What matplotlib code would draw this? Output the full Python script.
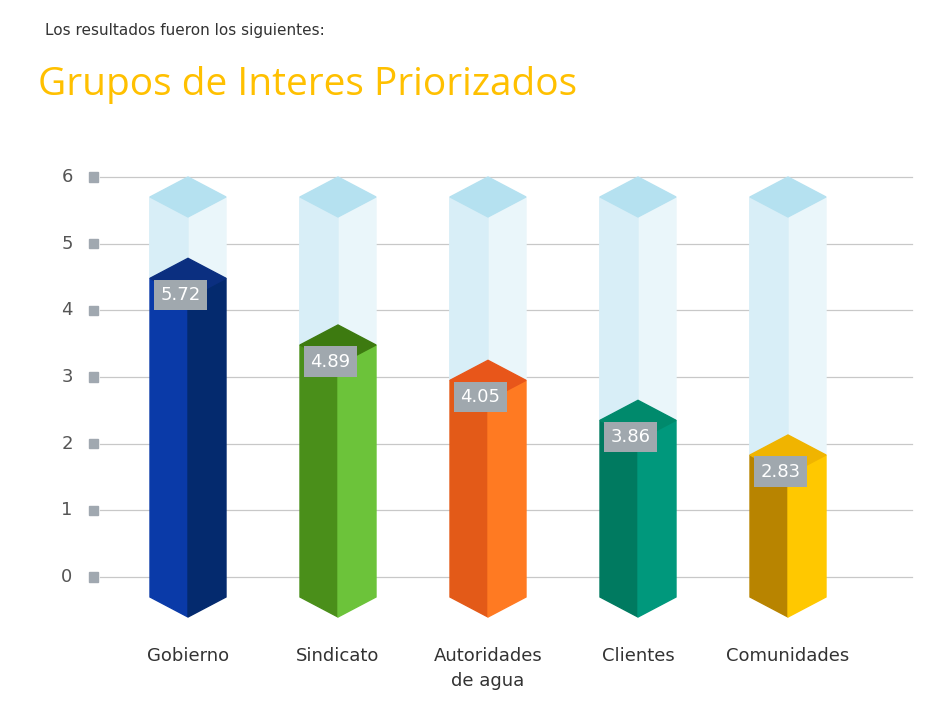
import matplotlib.pyplot as plt
from matplotlib.patches import Polygon, Rectangle

categories = ["Gobierno", "Sindicato", "Autoridades\nde agua", "Clientes", "Comunidades"]
scores = [5.72, 4.89, 4.05, 3.86, 2.83]
# height of the coloured fill (side corners) in axis units
fill_levels = [4.48, 3.48, 2.95, 2.35, 1.83]
yticks = [0, 1, 2, 3, 4, 5, 6]

left_cols = ["#0a3aa8", "#4a8f1a", "#e35a18", "#007a60", "#b88400"]
right_cols = ["#042a6e", "#6cc33a", "#ff7a22", "#00987c", "#ffc800"]
top_cols = ["#0b2f80", "#3d7a10", "#e8561a", "#008a6c", "#f0b400"]

fig = plt.figure(figsize=(9.38, 7.07), dpi=100)
ax = fig.add_axes([0, 0, 1, 1])
ax.set_xlim(-188 / 150, (938 - 188) / 150)
ax.set_ylim((577 - 707) / 66.67, 577 / 66.67)
ax.axis("off")

px = 1 / 150  # one pixel in x units
hw = 38 * px  # half width of a bar
dz = 0.3  # vertical offset of the prism edges

# grid, tick labels and little square markers
for t in yticks:
    ax.plot([(100 - 188) * px, (912 - 188) * px], [t, t], color="#c8c8c8", lw=0.9, zorder=0)
    ax.text((67 - 188) * px, t, str(t), ha="center", va="center", fontsize=13, color="#555555")
    ax.add_patch(Rectangle(((89 - 188) * px, t - 0.07), 9 * px, 0.14, color="#a0a8b0", zorder=1))

for i, (lvl, sc) in enumerate(zip(fill_levels, scores)):
    c = i
    top = 6 - dz  # glass top side corners
    bot = -dz
    # glass part
    ax.add_patch(Polygon([(c - hw, lvl), (c, lvl + dz), (c, top), (c - hw, top - 0.0 - 0)], color="#d8eef7", zorder=2))
    ax.add_patch(Polygon([(c, lvl + dz), (c + hw, lvl), (c + hw, top), (c, top - dz)], color="#eaf6fa", zorder=2))
    ax.add_patch(Polygon([(c - hw, top), (c, top + dz), (c + hw, top), (c, top - dz)], color="#b5e1f0", zorder=3))
    ax.add_patch(Polygon([(c - hw, top), (c, top - dz), (c, lvl + dz), (c - hw, lvl)], color="#d8eef7", zorder=2))
    # coloured fill
    ax.add_patch(Polygon([(c - hw, bot), (c, bot - dz), (c, lvl - dz), (c - hw, lvl)], color=left_cols[i], zorder=3))
    ax.add_patch(Polygon([(c, bot - dz), (c + hw, bot), (c + hw, lvl), (c, lvl - dz)], color=right_cols[i], zorder=3))
    ax.add_patch(Polygon([(c - hw, lvl), (c, lvl + dz), (c + hw, lvl), (c, lvl - dz)], color=top_cols[i], zorder=4))
    # value box
    ax.text(c - 0.05, lvl - 0.25, f"{sc:.2f}", ha="center", va="center", fontsize=13, color="white",
            zorder=5, bbox=dict(boxstyle="square,pad=0.35", fc="#a0a8ae", ec="none"))
    ax.text(c, -1.05, categories[i], ha="center", va="top", fontsize=13, color="#333333", linespacing=1.5)

fig.text(45 / 938, 1 - 30 / 707, "Los resultados fueron los siguientes:", fontsize=11, color="#333333", va="center")
fig.text(38 / 938, 1 - 85 / 707, "Grupos de Interes Priorizados", fontsize=28, color="#ffc000", va="center",
         family="Open Sans")

fig.savefig("out.png", dpi=100)
